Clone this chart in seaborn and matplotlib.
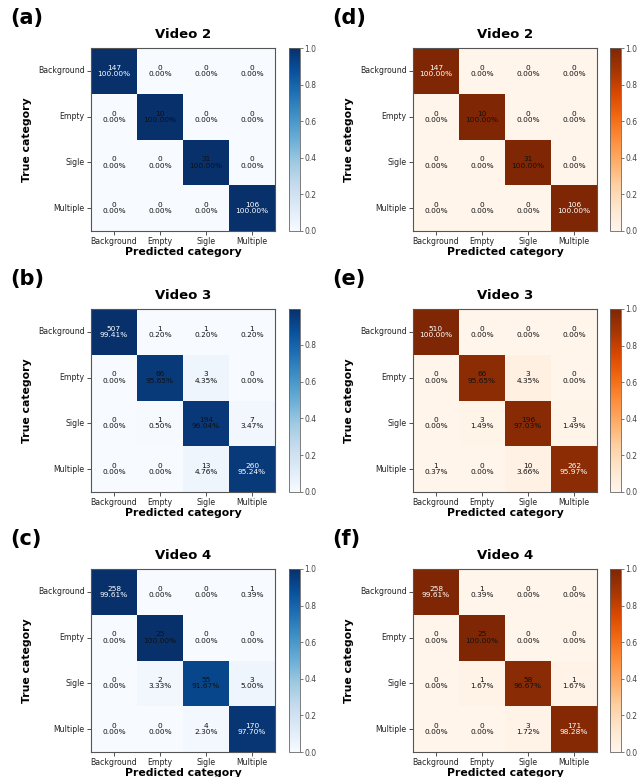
import numpy as np
import matplotlib
matplotlib.use("Agg")
import matplotlib.pyplot as plt
import seaborn as sns

categories = ["Background", "Empty", "Sigle", "Multiple"]

counts_a = [[147, 0, 0, 0], [0, 10, 0, 0], [0, 0, 31, 0], [0, 0, 0, 106]]
counts_b = [[507, 1, 1, 1], [0, 66, 3, 0], [0, 1, 194, 7], [0, 0, 13, 260]]
counts_c = [[258, 0, 0, 1], [0, 25, 0, 0], [0, 2, 55, 3], [0, 0, 4, 170]]
counts_d = [[147, 0, 0, 0], [0, 10, 0, 0], [0, 0, 31, 0], [0, 0, 0, 106]]
counts_e = [[510, 0, 0, 0], [0, 66, 3, 0], [0, 3, 196, 3], [1, 0, 10, 262]]
counts_f = [[258, 1, 0, 0], [0, 25, 0, 0], [0, 1, 58, 1], [0, 0, 3, 171]]

titles = ["Video 2", "Video 3", "Video 4"]
panel_labels = [["(a)", "(b)", "(c)"], ["(d)", "(e)", "(f)"]]
panels = [[counts_a, counts_b, counts_c], [counts_d, counts_e, counts_f]]
cmaps = ["Blues", "Oranges"]

W, H = 640, 777
fig = plt.figure(figsize=(W / 100, H / 100), dpi=100)

ax_left = [91, 413]
cb_left = [289, 610]
ax_top = [48, 309, 569]
ax_w, ax_h = 184, 183
cb_w = 11

for col in range(2):
    for row in range(3):
        cm = np.array(panels[col][row], dtype=float)
        norm = cm / cm.sum(axis=1, keepdims=True)
        annot = np.array([[f"{int(cm[i, j])}\n{norm[i, j] * 100:.2f}%" for j in range(4)] for i in range(4)])
        l = ax_left[col] / W
        b = 1 - (ax_top[row] + ax_h) / H
        ax = fig.add_axes([l, b, ax_w / W, ax_h / H])
        cax = fig.add_axes([cb_left[col] / W, b, cb_w / W, ax_h / H])
        sns.heatmap(norm, ax=ax, cbar_ax=cax, cmap=cmaps[col], annot=annot, fmt="",
                    annot_kws={"fontsize": 5.3, "linespacing": 1.05},
                    xticklabels=categories, yticklabels=categories, square=False)
        thresh = cm.max() / 2
        for k, t in enumerate(ax.texts):
            i, j = divmod(k, 4)
            t.set_color("white" if cm[i, j] > thresh else "#111111")
        for s in ax.spines.values():
            s.set_visible(True)
            s.set_color("#555555")
            s.set_linewidth(0.8)
        ax.tick_params(axis="both", labelsize=5.6, length=3, width=0.6, pad=1.5,
                       color="#333333", labelcolor="#222222")
        ax.set_yticklabels(categories, rotation=0)
        ax.set_xticklabels(categories, rotation=0)
        ax.set_xlabel("Predicted category", fontsize=7.8, fontweight="bold", labelpad=0.5)
        ax.set_ylabel("True category", fontsize=7.8, fontweight="bold", labelpad=4)
        ax.set_title(titles[row], fontsize=9.5, fontweight="bold", pad=7)
        cbar = ax.collections[0].colorbar
        cbar.ax.tick_params(labelsize=5.5, length=2, width=0.5, pad=1.2,
                            color="#444444", labelcolor="#444444")
        cbar.outline.set_visible(True)
        cbar.outline.set_linewidth(0.6)
        cbar.outline.set_edgecolor("#666666")
        fig.text((ax_left[col] - 81) / W, 1 - (ax_top[row] - 30) / H, panel_labels[col][row],
                 fontsize=15, fontweight="bold", ha="left", va="center")

fig.savefig("out.png", dpi=100)
